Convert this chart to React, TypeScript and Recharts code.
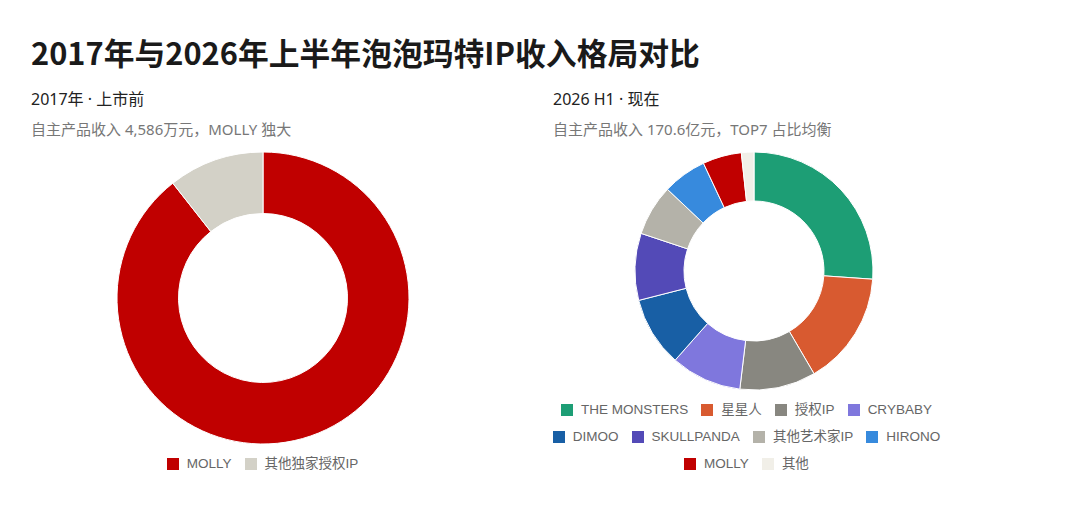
import React from 'react';
import { PieChart, Pie, Cell, Legend } from 'recharts';

// ---- data ----
const LEFT_NAMES = ['MOLLY', '其他独家授权IP'];
const LEFT_VALUES = [4100, 486]; // 万元
const LEFT_COLORS = ['#C00000', '#D3D1C7'];

const RIGHT_NAMES = [
  'THE MONSTERS',
  '星星人',
  '授权IP',
  'CRYBABY',
  'DIMOO',
  'SKULLPANDA',
  '其他艺术家IP',
  'HIRONO',
  'MOLLY',
  '其他',
];
const RIGHT_VALUES = [44.5, 26.4, 17.6, 16.4, 16.2, 15.5, 11.8, 10.2, 9.0, 2.9]; // 亿元
const RIGHT_COLORS = [
  '#1D9E75',
  '#D85A30',
  '#888780',
  '#7F77DD',
  '#185FA5',
  '#534AB7',
  '#B4B2A9',
  '#378ADD',
  '#C00000',
  '#F1EFE8',
];
const RIGHT_LEGEND_ROWS = [4, 4, 2];

const TITLE = '2017年与2026年上半年泡泡玛特IP收入格局对比';
const LEFT_SUB1 = '2017年 · 上市前';
const LEFT_SUB2 = '自主产品收入 4,586万元，MOLLY 独大';
const RIGHT_SUB1 = '2026 H1 · 现在';
const RIGHT_SUB2 = '自主产品收入 170.6亿元，TOP7 占比均衡';

const leftData = LEFT_NAMES.map((name, i) => ({ name, value: LEFT_VALUES[i], color: LEFT_COLORS[i] }));
const rightData = RIGHT_NAMES.map((name, i) => ({ name, value: RIGHT_VALUES[i], color: RIGHT_COLORS[i] }));

const CJK = '"Noto Sans CJK SC", "Noto Sans", sans-serif';
const SUB_FONT = '"Noto Sans", "Noto Sans CJK SC", sans-serif';
const LEGEND_FONT = '"Liberation Sans", Arial, "Noto Sans CJK SC", sans-serif';
const NO_MARGIN = { top: 0, right: 0, bottom: 0, left: 0 };

type Item = { name: string; color: string };

function LegendRows({ items, rows }: { items: Item[]; rows: number[] }) {
  const groups: Item[][] = [];
  let k = 0;
  for (const n of rows) {
    groups.push(items.slice(k, k + n));
    k += n;
  }
  return (
    <div style={{ width: '100%' }}>
      {groups.map((g, gi) => (
        <div
          key={gi}
          style={{
            display: 'flex',
            justifyContent: 'center',
            alignItems: 'center',
            height: 27,
          }}
        >
          {g.map((it, ii) => (
            <div
              key={it.name}
              style={{
                display: 'flex',
                alignItems: 'center',
                marginRight: ii === g.length - 1 ? 0 : 13,
              }}
            >
              <span
                style={{
                  display: 'inline-block',
                  width: 12,
                  height: 12,
                  background: it.color,
                  marginRight: 8,
                }}
              />
              <span
                style={{
                  fontFamily: LEGEND_FONT,
                  fontSize: 13.5,
                  color: '#666',
                  whiteSpace: 'nowrap',
                  lineHeight: '14px',
                }}
              >
                {it.name}
              </span>
            </div>
          ))}
        </div>
      ))}
    </div>
  );
}

const textBase: React.CSSProperties = {
  position: 'absolute',
  whiteSpace: 'nowrap',
  margin: 0,
};

export default function App() {
  return (
    <div
      style={{
        position: 'absolute',
        left: 0,
        top: 0,
        width: 1080,
        height: 515,
        background: '#fff',
        overflow: 'hidden',
      }}
    >
      <div
        style={{
          ...textBase,
          fontFamily: CJK,
          left: 31,
          top: 36.5,
          fontSize: 30.8,
          lineHeight: '30.8px',
          fontWeight: 700,
          color: '#1a1a1a',
        }}
      >
        {TITLE}
      </div>
      <div style={{ ...textBase, fontFamily: SUB_FONT, left: 31, top: 91, fontSize: 16, lineHeight: '16px', color: '#222' }}>
        {LEFT_SUB1}
      </div>
      <div style={{ ...textBase, fontFamily: SUB_FONT, left: 31, top: 122, fontSize: 15, lineHeight: '15px', color: '#777' }}>
        {LEFT_SUB2}
      </div>
      <div style={{ ...textBase, fontFamily: SUB_FONT, left: 553, top: 91, fontSize: 16, lineHeight: '16px', color: '#222' }}>
        {RIGHT_SUB1}
      </div>
      <div style={{ ...textBase, fontFamily: SUB_FONT, left: 553, top: 122, fontSize: 15, lineHeight: '15px', color: '#777' }}>
        {RIGHT_SUB2}
      </div>

      <div style={{ position: 'absolute', left: 0, top: 140 }}>
        <PieChart width={525} height={360} margin={NO_MARGIN}>
          <Pie
            data={leftData}
            dataKey="value"
            nameKey="name"
            cx={263}
            cy={158}
            innerRadius={84.5}
            outerRadius={146}
            startAngle={90}
            endAngle={-270}
            stroke="#fff"
            strokeWidth={1}
            isAnimationActive={false}
          >
            {leftData.map((d) => (
              <Cell key={d.name} fill={d.color} />
            ))}
          </Pie>
          <Legend
            content={() => <LegendRows items={leftData} rows={[leftData.length]} />}
            wrapperStyle={{ position: 'absolute', top: 310.5, left: 0, width: 525 }}
          />
        </PieChart>
      </div>

      <div style={{ position: 'absolute', left: 540, top: 140 }}>
        <PieChart width={413} height={360} margin={NO_MARGIN}>
          <Pie
            data={rightData}
            dataKey="value"
            nameKey="name"
            cx={214}
            cy={131}
            innerRadius={70}
            outerRadius={119}
            startAngle={90}
            endAngle={-270}
            stroke="#fff"
            strokeWidth={1}
            isAnimationActive={false}
          >
            {rightData.map((d) => (
              <Cell key={d.name} fill={d.color} />
            ))}
          </Pie>
          <Legend
            content={() => <LegendRows items={rightData} rows={RIGHT_LEGEND_ROWS} />}
            wrapperStyle={{ position: 'absolute', top: 256.5, left: 0, width: 413 }}
          />
        </PieChart>
      </div>
    </div>
  );
}
